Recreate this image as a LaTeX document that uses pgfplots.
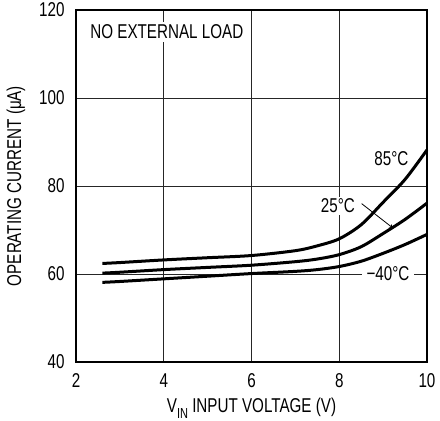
\documentclass[border=0pt]{standalone}
\usepackage{fontspec}
\setmainfont{Liberation Sans}[FakeStretch=0.76]
\usepackage{pgfplots}
\pgfplotsset{compat=1.18}

\pgfplotstableread{
x     t85   t25   tm40
2.6   62.4  60.2  58.1
3.0   62.6  60.4  58.3
4.0   63.2  61.0  58.9
5.0   63.7  61.5  59.5
6.0   64.2  62.0  60.1
7.0   65.3  62.8  60.6
7.5   66.4  63.4  61.0
8.0   68.0  64.4  61.7
8.5   71.2  66.2  62.9
9.0   76.3  69.2  64.7
9.5   81.5  72.4  66.7
10.0  88.2  76.1  69.0
}\current

\begin{document}
\begin{tikzpicture}[font=\fontsize{20}{24}\selectfont]
\path[use as bounding box] (-76pt,-59pt) rectangle (364pt,362pt);
\begin{axis}[
    scale only axis,
    width=351pt, height=352pt,
    xmin=2, xmax=10, ymin=40, ymax=120,
    xtick={2,4,...,10}, ytick={40,60,...,120},
    grid=major,
    major grid style={black!85, line width=0.7pt},
    axis line style={line width=1.2pt},
    major tick length=0pt,
    /pgf/number format/assume math mode=true,
    yticklabel style={xshift=-8pt},
    xticklabel style={yshift=-8pt},
    xlabel={V\raisebox{-0.3em}{\fontsize{14.5}{16}\selectfont IN} INPUT VOLTAGE (V)},
    ylabel={OPERATING CURRENT (μA)},
    xlabel style={at={(axis description cs:0.5,-0.13)}, anchor=center},
    ylabel style={at={(axis description cs:-0.171,0.5)}, anchor=center},
    clip=false,
]
\addplot[black, line width=3pt, smooth] table[x=x, y=t85] {\current};
\addplot[black, line width=3pt, smooth] table[x=x, y=t25] {\current};
\addplot[black, line width=3pt, smooth] table[x=x, y=tm40] {\current};

\node[fill=white, inner xsep=4pt, inner ysep=3pt] at (axis cs:4.07,115) {NO EXTERNAL LOAD};
\node[fill=white, inner sep=2pt] at (axis cs:9.19,86.3) {85°C};
\node[fill=white, inner sep=2pt] at (axis cs:7.97,75.5) {25°C};
\draw[-stealth, line width=0.8pt] (axis cs:8.51,76.0) -- (axis cs:9.23,70.4);
\node[fill=white, inner xsep=5pt, inner ysep=2pt] at (axis cs:9.11,60) {−40°C};
\end{axis}
\end{tikzpicture}
\end{document}
